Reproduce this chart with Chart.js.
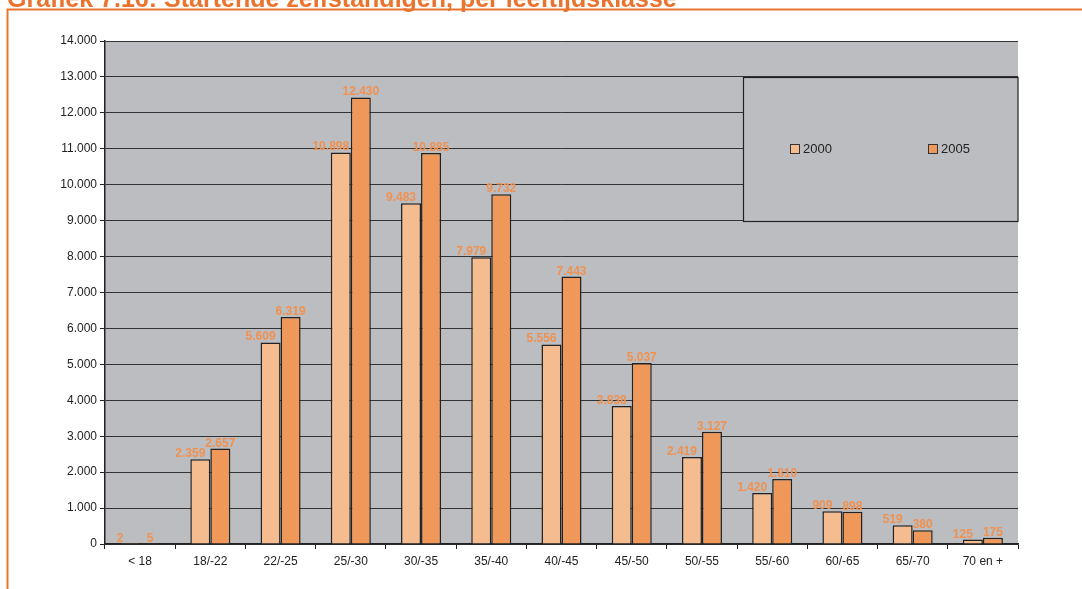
<!DOCTYPE html>
<html>
<head>
<meta charset="utf-8">
<script src="https://cdn.jsdelivr.net/npm/chart.js@4.4.1/dist/chart.umd.min.js"></script>
<style>
  html, body { margin: 0; padding: 0; background: #fff; }
  #wrap { width: 1082px; height: 589px; }
</style>
</head>
<body>
<div id="wrap"><canvas id="myBarChart" width="1082" height="589"></canvas></div>
<script>
// leeftijdsklassen (x-as)
var categories = ['< 18', '18/-22', '22/-25', '25/-30', '30/-35', '35/-40', '40/-45',
                  '45/-50', '50/-55', '55/-60', '60/-65', '65/-70', '70 en +'];
var seriesNames = ['2000', '2005'];
var values2000 = [2, 2359, 5609, 10898, 9483, 7979, 5556, 3838, 2419, 1420, 909, 519, 125];
var values2005 = [5, 2657, 6319, 12430, 10885, 9732, 7443, 5037, 3127, 1810, 898, 380, 175];
var yTicks = [0, 1000, 2000, 3000, 4000, 5000, 6000, 7000, 8000, 9000, 10000, 11000, 12000, 13000, 14000];
var titleText = 'Grafiek 7.16: Startende zelfstandigen, per leeftijdsklasse';

var barColors = ['#f5bc90', '#f0985a'];
var orange = '#ea742e';
var labelColor = '#f09150';

function fmt(v) {
    return String(v).replace(/\B(?=(\d{3})+(?!\d))/g, '.');
}

// grijze achtergrond, kader en titel
var backgroundPlugin = {
    id: 'background',
    beforeDraw: function(chart) {
        var ctx = chart.ctx, a = chart.chartArea;
        ctx.save();
        ctx.fillStyle = '#bcbdc1';
        ctx.fillRect(a.left, a.top, a.right - a.left, a.bottom - a.top);
        // oranje kader
        ctx.strokeStyle = orange;
        ctx.lineWidth = 2;
        ctx.beginPath();
        ctx.moveTo(1082, 9.5);
        ctx.lineTo(7.5, 9.5);
        ctx.lineTo(7.5, 589);
        ctx.stroke();
        // titel (bovenaan afgesneden)
        ctx.fillStyle = orange;
        ctx.font = 'bold 25px "Liberation Sans", Arial, sans-serif';
        ctx.textBaseline = 'alphabetic';
        ctx.fillText(titleText, 7, 7);
        ctx.restore();
    }
};

// legenda in een vak binnen het plotgebied
var legendBoxPlugin = {
    id: 'legendBox',
    beforeDatasetsDraw: function(chart) {
        var ctx = chart.ctx, a = chart.chartArea;
        var y = chart.scales.y;
        var top = Math.round(y.getPixelForValue(13000)) + 0.5;
        var bottom = Math.round(y.getPixelForValue(9000)) + 0.5;
        var left = 743.5, right = a.right;
        ctx.save();
        ctx.fillStyle = '#bcbdc1';
        ctx.fillRect(left, top, right - left, bottom - top);
        ctx.strokeStyle = '#222';
        ctx.lineWidth = 1.2;
        ctx.strokeRect(left, top, right - left, bottom - top);
        var midY = (top + bottom) / 2;
        var itemX = [790, 928];
        ctx.font = '13px "Liberation Sans", Arial, sans-serif';
        ctx.textBaseline = 'middle';
        seriesNames.forEach(function(name, i) {
            ctx.fillStyle = barColors[i];
            ctx.fillRect(itemX[i] + 0.5, midY - 5, 9, 9);
            ctx.strokeStyle = '#333';
            ctx.lineWidth = 1;
            ctx.strokeRect(itemX[i] + 0.5, midY - 5, 9, 9);
            ctx.fillStyle = '#222';
            ctx.fillText(name, itemX[i] + 13, midY);
        });
        ctx.restore();
    }
};

// waardelabels boven de staven
var valueLabelPlugin = {
    id: 'valueLabels',
    afterDatasetsDraw: function(chart) {
        var ctx = chart.ctx;
        ctx.save();
        ctx.font = 'bold 12px "Liberation Sans", Arial, sans-serif';
        ctx.fillStyle = labelColor;
        ctx.textAlign = 'center';
        ctx.textBaseline = 'alphabetic';
        chart.data.datasets.forEach(function(ds, di) {
            var meta = chart.getDatasetMeta(di);
            var shift = di === 0 ? -10 : 0;
            meta.data.forEach(function(bar, i) {
                ctx.fillText(fmt(ds.data[i]), bar.x + shift, bar.y - 2);
            });
        });
        ctx.restore();
    }
};

var ctxEl = document.getElementById('myBarChart');
var myBarChart = new Chart(ctxEl, {
    type: 'bar',
    data: {
        labels: categories,
        datasets: [{
            label: seriesNames[0],
            data: values2000,
            backgroundColor: barColors[0],
            borderColor: '#222',
            borderWidth: 1.5,
            categoryPercentage: 0.57,
            barPercentage: 1.0
        }, {
            label: seriesNames[1],
            data: values2005,
            backgroundColor: barColors[1],
            borderColor: '#222',
            borderWidth: 1.5,
            categoryPercentage: 0.57,
            barPercentage: 1.0
        }]
    },
    options: {
        responsive: false,
        animation: false,
        layout: { padding: { top: 41, right: 64, bottom: 0, left: 0 } },
        plugins: {
            legend: { display: false },
            tooltip: { enabled: false }
        },
        scales: {
            x: {
                afterFit: function(scale) { scale.height = 45; },
                grid: {
                    offset: true,
                    drawOnChartArea: false,
                    drawTicks: true,
                    tickLength: 5,
                    tickColor: '#222'
                },
                border: { display: true, color: '#222', width: 1.5 },
                ticks: {
                    color: '#222',
                    padding: 5,
                    maxRotation: 0,
                    font: { family: '"Liberation Sans", Arial, sans-serif', size: 12 }
                }
            },
            y: {
                min: 0,
                max: 14000,
                afterFit: function(scale) { scale.width = 105; },
                afterBuildTicks: function(scale) {
                    scale.ticks = yTicks.map(function(v) { return { value: v }; });
                },
                grid: {
                    color: '#333',
                    lineWidth: 1,
                    drawTicks: true,
                    tickLength: 5,
                    tickColor: '#222'
                },
                border: { display: true, color: '#222', width: 1.5 },
                ticks: {
                    color: '#222',
                    padding: 3,
                    font: { family: '"Liberation Sans", Arial, sans-serif', size: 12 },
                    callback: function(v) { return fmt(v); }
                }
            }
        }
    },
    plugins: [backgroundPlugin, legendBoxPlugin, valueLabelPlugin]
});
</script>
</body>
</html>
